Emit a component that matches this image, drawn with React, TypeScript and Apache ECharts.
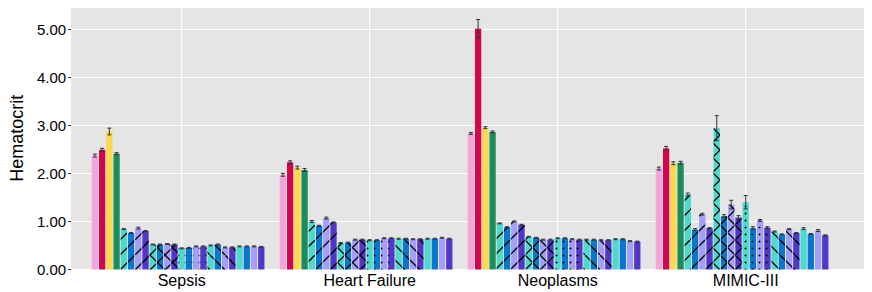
import React, { useEffect, useRef } from 'react';
import * as echarts from 'echarts';

const categories = ['Sepsis', 'Heart Failure', 'Neoplasms', 'MIMIC-III'];

const methodNames = [
  'M01', 'M02', 'M03', 'M04', 'M05', 'M06', 'M07', 'M08',
  'M09', 'M10', 'M11', 'M12', 'M13', 'M14', 'M15', 'M16',
  'M17', 'M18', 'M19', 'M20', 'M21', 'M22', 'M23', 'M24',
];

const sepsisValues = [2.37, 2.49, 2.87, 2.41, 0.84, 0.76, 0.86, 0.8, 0.52, 0.52, 0.53, 0.52, 0.44, 0.45, 0.48, 0.48, 0.5, 0.52, 0.46, 0.46, 0.48, 0.48, 0.48, 0.47];
const heartFailureValues = [1.97, 2.23, 2.12, 2.07, 1.0, 0.91, 1.07, 0.98, 0.55, 0.56, 0.62, 0.62, 0.61, 0.61, 0.65, 0.65, 0.64, 0.64, 0.63, 0.63, 0.64, 0.64, 0.66, 0.64];
const neoplasmsValues = [2.83, 5.01, 2.95, 2.86, 0.96, 0.88, 1.0, 0.93, 0.68, 0.66, 0.62, 0.62, 0.65, 0.65, 0.63, 0.62, 0.62, 0.62, 0.61, 0.61, 0.63, 0.63, 0.59, 0.58];
const mimicValues = [2.1, 2.52, 2.21, 2.22, 1.56, 0.83, 1.15, 0.86, 2.94, 1.11, 1.35, 1.08, 1.4, 0.86, 1.02, 0.87, 0.79, 0.73, 0.84, 0.76, 0.85, 0.74, 0.81, 0.71];

const sepsisErrors = [0.03, 0.03, 0.07, 0.02, 0.01, 0.01, 0.02, 0.01, 0.01, 0.01, 0.01, 0.01, 0.01, 0.01, 0.01, 0.01, 0.01, 0.01, 0.01, 0.01, 0.01, 0.01, 0.01, 0.01];
const heartFailureErrors = [0.03, 0.03, 0.03, 0.03, 0.02, 0.01, 0.02, 0.01, 0.01, 0.01, 0.01, 0.01, 0.01, 0.01, 0.01, 0.01, 0.01, 0.01, 0.01, 0.01, 0.01, 0.01, 0.01, 0.01];
const neoplasmsErrors = [0.02, 0.19, 0.02, 0.02, 0.01, 0.01, 0.01, 0.01, 0.01, 0.01, 0.01, 0.01, 0.01, 0.01, 0.01, 0.01, 0.01, 0.01, 0.01, 0.01, 0.01, 0.01, 0.01, 0.01];
const mimicErrors = [0.03, 0.04, 0.03, 0.03, 0.03, 0.02, 0.02, 0.01, 0.26, 0.03, 0.09, 0.04, 0.14, 0.03, 0.02, 0.02, 0.01, 0.01, 0.01, 0.01, 0.02, 0.01, 0.02, 0.01];

const yTicks = [0, 1, 2, 3, 4, 5];

const leadColors = ['#F3A4D8', '#D1064F', '#FED84E', '#1D8B5C'];
const cycleColors = ['#4ED9CF', '#0878CD', '#A29EF9', '#5037C7'];
const patternGroups = ['none', 'slash', 'cross', 'dots', 'backslash', 'none'];

const valuesByCategory = [sepsisValues, heartFailureValues, neoplasmsValues, mimicValues];
const errorsByCategory = [sepsisErrors, heartFailureErrors, neoplasmsErrors, mimicErrors];

const SLOTS = methodNames.length + 1;
const CATEGORY_GAP = 0.043;
const BAR_GAP = 0.15;

const SLASH = 'path://M0,14.1L14.1,0L15,0L15,0.9L0.9,15L0,15Z';
const BACKSLASH = 'path://M0,0L0.9,0L15,14.1L15,15L14.1,15L0,0.9Z';
const CROSS = 'path://M0,0L0.9,0L15,14.1L15,15L14.1,15L0,0.9ZM0,14.1L14.1,0L15,0L15,0.9L0.9,15L0,15Z';

function decalFor(kind: string): any {
  const base = { color: '#000', dashArrayX: [15, 0], dashArrayY: [15, 0], symbolSize: 1, rotation: 0 };
  if (kind === 'slash') return { ...base, symbol: SLASH };
  if (kind === 'backslash') return { ...base, symbol: BACKSLASH };
  if (kind === 'cross') return { ...base, symbol: CROSS };
  if (kind === 'dots') return { color: '#000', symbol: 'circle', symbolSize: 0.27, dashArrayX: [7, 0], dashArrayY: [7, 0], rotation: 0 };
  return null;
}

const FONT = 'Liberation Sans, Arial, sans-serif';

export default function App() {
  const ref = useRef<HTMLDivElement>(null);
  useEffect(() => {
    if (!ref.current) return;
    const chart = echarts.init(ref.current, undefined, { renderer: 'svg' });

    const barSeries: any[] = methodNames.map((name, i) => {
      const color = i < 4 ? leadColors[i] : cycleColors[i % 4];
      const kind = patternGroups[Math.floor(i / 4)];
      const decal = decalFor(kind);
      const itemStyle: any = { color };
      if (decal) itemStyle.decal = decal;
      return {
        type: 'bar',
        name,
        xAxisIndex: 1,
        yAxisIndex: 1,
        data: valuesByCategory.map((vals) => vals[i]),
        itemStyle,
        barCategoryGap: (CATEGORY_GAP * 100) + '%',
        barGap: (BAR_GAP * 100) + '%',
        z: 2,
        silent: true,
      };
    });
    // empty dodge slot (reserved position at the end of every group)
    barSeries.push({ type: 'bar', name: 'empty', xAxisIndex: 1, yAxisIndex: 1, data: [], z: 2, silent: true });

    const errData: any[] = [];
    valuesByCategory.forEach((vals, c) => {
      vals.forEach((v, i) => errData.push([c, v, errorsByCategory[c][i], i]));
    });

    const option: any = {
      animation: false,
      backgroundColor: '#fff',
      textStyle: { fontFamily: FONT },
      grid: [
        { left: 55, right: 8, top: 7, bottom: 22.5, show: true, backgroundColor: '#E5E5E5', borderWidth: 0 },
        { left: 87.7, right: 32.3, top: 7, bottom: 22.5, show: false },
      ],
      xAxis: [
        { type: 'value', gridIndex: 0, show: false, min: 0, max: 1 },
        {
          type: 'category', gridIndex: 1, data: categories,
          axisLine: { show: false }, axisTick: { show: false }, splitLine: { show: false },
          axisLabel: { color: '#000', fontSize: 16, fontFamily: FONT, margin: 3 },
        },
      ],
      yAxis: [
        {
          type: 'value', gridIndex: 0, min: 0, max: 5.46, interval: 1,
          name: 'Hematocrit', nameLocation: 'middle', nameGap: 35,
          nameTextStyle: { color: '#000', fontSize: 18, fontFamily: FONT },
          axisLine: { show: false },
          axisTick: { show: true, length: 3, lineStyle: { color: '#333', width: 1 } },
          axisLabel: {
            color: '#000', fontSize: 15, fontFamily: FONT, margin: 5,
            formatter: (v: number) => (yTicks.indexOf(v) >= 0 ? v.toFixed(2) : ''),
            showMaxLabel: false,
          },
          splitLine: { show: true, lineStyle: { color: '#FFFFFF', width: 1.2 } },
        },
        { type: 'value', gridIndex: 1, min: 0, max: 5.46, show: false, splitLine: { show: false } },
      ],
      series: [
        {
          type: 'custom', name: 'vgrid', xAxisIndex: 1, yAxisIndex: 1, z: 1, silent: true,
          data: categories.map((_, i) => [i, 0]),
          encode: { x: 0, y: 1 },
          renderItem: (params: any, api: any) => {
            const x = api.coord([api.value(0), 0])[0];
            const cs = params.coordSys;
            return {
              type: 'line',
              shape: { x1: x, y1: cs.y, x2: x, y2: cs.y + cs.height },
              style: { stroke: '#FFFFFF', lineWidth: 1.2 },
            };
          },
        },
        ...barSeries,
        {
          type: 'custom', name: 'errors', xAxisIndex: 1, yAxisIndex: 1, z: 5, silent: true,
          data: errData,
          encode: { x: 0, y: 1 },
          renderItem: (params: any, api: any) => {
            const c = api.value(0);
            const v = api.value(1);
            const e = api.value(2);
            const idx = api.value(3);
            const band = api.size([1, 0])[0];
            const total = band * (1 - CATEGORY_GAP);
            const w = total / (SLOTS + (SLOTS - 1) * BAR_GAP);
            const cx = api.coord([c, 0])[0] - total / 2 + w / 2 + idx * w * (1 + BAR_GAP);
            const yt = api.coord([c, v + e])[1];
            const yb = api.coord([c, v - e])[1];
            const hw = 2;
            const st = { stroke: '#333333', lineWidth: 1 };
            return {
              type: 'group',
              children: [
                { type: 'line', shape: { x1: cx, y1: yt, x2: cx, y2: yb }, style: st },
                { type: 'line', shape: { x1: cx - hw, y1: yt, x2: cx + hw, y2: yt }, style: st },
                { type: 'line', shape: { x1: cx - hw, y1: yb, x2: cx + hw, y2: yb }, style: st },
              ],
            };
          },
        },
      ],
    };
    chart.setOption(option);
    return () => chart.dispose();
  }, []);
  return <div ref={ref} style={{ position: 'fixed', left: 0, top: 0, width: 872, height: 292 }} />;
}
